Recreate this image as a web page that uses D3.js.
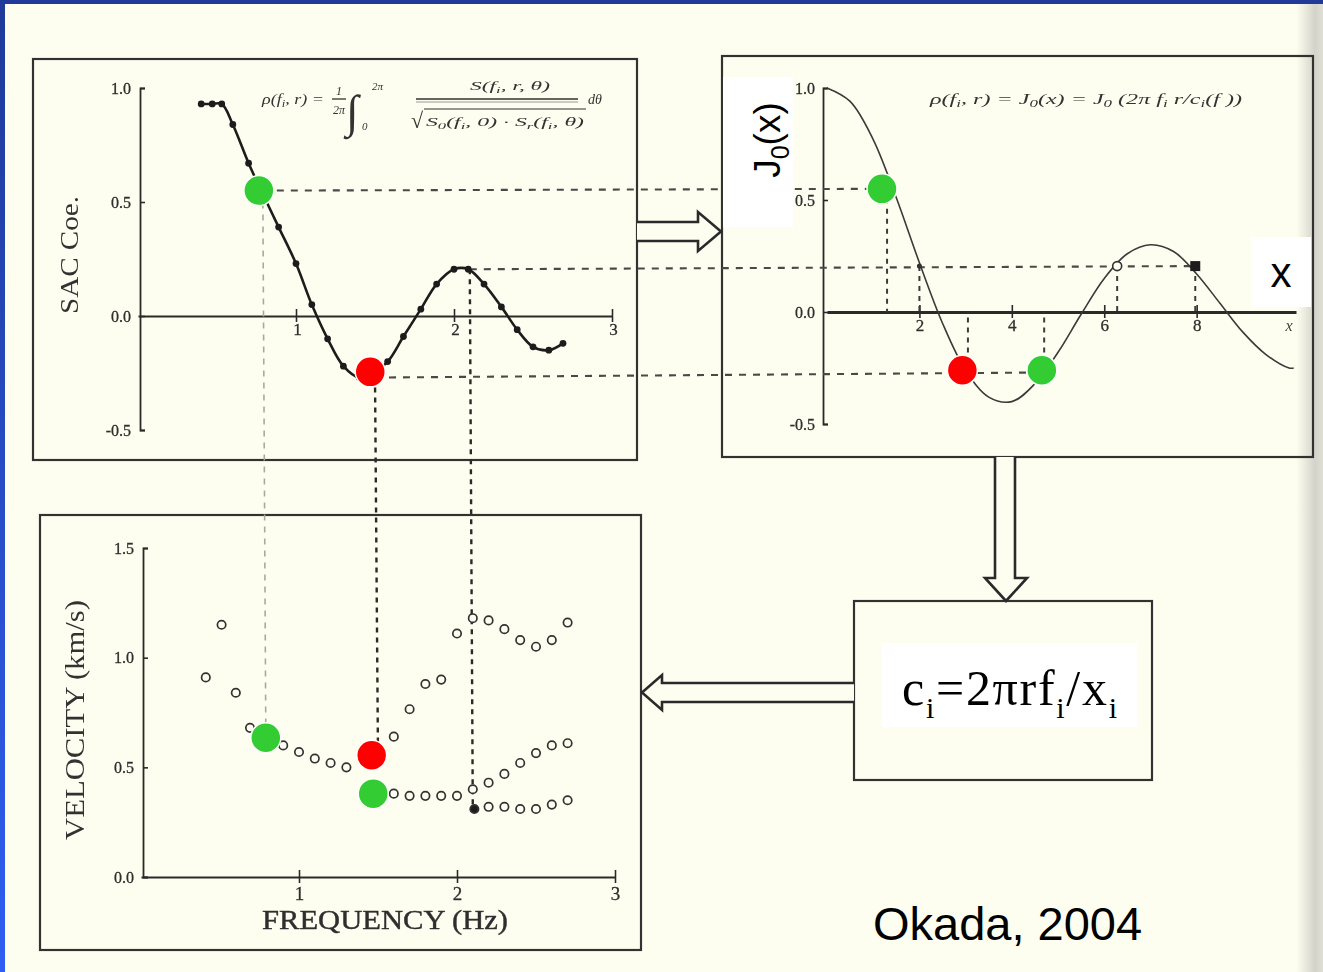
<!DOCTYPE html>
<html>
<head>
<meta charset="utf-8">
<script src="https://cdn.jsdelivr.net/npm/d3@7"></script>
<style>
  html, body { margin: 0; padding: 0; background: #fefef0; overflow: hidden; }
  svg { display: block; }
</style>
</head>
<body>
<svg id="fig" width="1323" height="972"></svg>
<script>
// ---------- data ----------
// SAC coefficient vs frequency (Hz)
const sacFreq = [0.40, 0.47, 0.53, 0.60, 0.70, 0.78, 0.89, 1.00, 1.10, 1.20, 1.30, 1.40, 1.48,
                 1.58, 1.68, 1.79, 1.89, 2.00, 2.09, 2.19, 2.30, 2.40, 2.50, 2.60, 2.69];
const sacCoef = [0.93, 0.93, 0.93, 0.84, 0.67, 0.55, 0.39, 0.23, 0.05, -0.10, -0.22, -0.27, -0.25,
                 -0.20, -0.09, 0.03, 0.14, 0.205, 0.205, 0.14, 0.04, -0.06, -0.135, -0.15, -0.12];

// J0(x) curve
const besselX  = [0, 0.5, 1, 1.5, 2, 2.5, 3, 3.5, 4, 4.5, 5, 5.5, 6, 6.5, 7, 7.5, 8, 8.5, 9, 9.5, 10, 10.1];
const besselJ0 = [1.0, 0.94, 0.77, 0.51, 0.22, -0.05, -0.26, -0.38, -0.40, -0.32, -0.18, -0.01,
                  0.15, 0.26, 0.30, 0.27, 0.17, 0.04, -0.09, -0.19, -0.25, -0.25];

// phase velocity branches (km/s) vs frequency (Hz)
const velFreqA = [0.41, 0.51, 0.60, 0.69, 0.80, 0.90, 1.00, 1.10, 1.20, 1.30, 1.46, 1.60, 1.70,
                  1.80, 1.90, 2.00, 2.10, 2.20, 2.30, 2.40, 2.50, 2.60, 2.70];
const velA     = [0.91, 1.15, 0.84, 0.68, 0.63, 0.60, 0.57, 0.54, 0.52, 0.50, 0.555, 0.64, 0.765,
                  0.88, 0.90, 1.11, 1.18, 1.17, 1.13, 1.08, 1.05, 1.08, 1.16];
const velFreqB = [1.47, 1.60, 1.70, 1.80, 1.90, 2.00, 2.10, 2.20, 2.30, 2.40, 2.50, 2.60, 2.70];
const velB     = [0.38, 0.38, 0.37, 0.37, 0.37, 0.37, 0.40, 0.43, 0.47, 0.52, 0.565, 0.60, 0.61];
const velFreqC = [2.11, 2.20, 2.30, 2.40, 2.50, 2.60, 2.70];
const velC     = [0.31, 0.32, 0.32, 0.31, 0.31, 0.33, 0.35];

// axis ticks
const sacTicks  = [-0.5, 0, 0.5, 1.0];
const freqTicks = [1, 2, 3];
const argTicks  = [2, 4, 6, 8];
const velTicks  = [0, 0.5, 1.0, 1.5];

// values read on the SAC curve and carried to J0(x) and to velocity
const pickFreq    = [0.79, 1.50, 2.10];
const pickCoef    = [0.55, -0.27, 0.205];
const pickVel     = [0.635, 0.555, 0.31];
const pickArg     = [1.30, 3.05, 4.70, 2.00, 6.28, 7.97];
const pickArgCoef = [0.55, -0.27, -0.27, 0.205, 0.205, 0.205];
const linkFrom    = [0, 1, 2];   // SAC pick index
const linkTo      = [0, 2, 5];   // J0 pick index

// highlighted picks (kind: 1 accepted, 0 rejected)
const hiSacFreq = [0.765, 1.47];
const hiSacCoef = [0.55, -0.245];
const hiSacKind = [1, 0];
const hiArg     = [1.19, 2.93, 4.65];
const hiArgJ0   = [0.55, -0.26, -0.26];
const hiArgKind = [1, 0, 1];
const hiVelFreq = [0.79, 1.46, 1.47];
const hiVel     = [0.635, 0.555, 0.38];
const hiVelKind = [1, 0, 1];

// ---------- drawing ----------
const svg = d3.select('#fig');
const defs = svg.append('defs');
defs.append('filter').attr('id', 'soft')
  .append('feGaussianBlur').attr('stdDeviation', 0.65);
const edge = defs.append('linearGradient').attr('id', 'edge').attr('x1', 0).attr('x2', 1).attr('y1', 0).attr('y2', 0);
[[0, '#fefef0'], [0.35, '#e9e9de'], [0.7, '#d3d3c9'], [1, '#dfdfd5']]
  .forEach(([o, c]) => edge.append('stop').attr('offset', o).attr('stop-color', c));
const blue = defs.append('linearGradient').attr('id', 'blue').attr('x1', 0).attr('x2', 0).attr('y1', 0).attr('y2', 1);
[[0, '#1f3a98'], [1, '#2f5ef2']].forEach(([o, c]) => blue.append('stop').attr('offset', o).attr('stop-color', c));

svg.append('rect').attr('width', 1323).attr('height', 972).attr('fill', '#fefef0');
svg.append('rect').attr('x', 1296).attr('y', 0).attr('width', 27).attr('height', 972).attr('fill', 'url(#edge)');

const scan = svg.append('g').attr('filter', 'url(#soft)');
const INK = '#2a2a2a';
const SERIF = "'Liberation Serif', 'Times New Roman', serif";

const xTL = d3.scaleLinear().domain([0, 3]).range([138, 612]);
const yTL = d3.scaleLinear().domain([-0.5, 1]).range([430, 88]);
const xTR = d3.scaleLinear().domain([0, 10.15]).range([827, 1296]);
const yTR = d3.scaleLinear().domain([-0.5, 1]).range([424, 88]);
const xBL = d3.scaleLinear().domain([0, 3]).range([141, 615]);
const yBL = d3.scaleLinear().domain([0, 1.5]).range([877, 548]);

// panel frames
const frames = [[33, 59, 604, 401], [722, 56, 591, 401], [40, 515, 601, 435], [854, 601, 298, 179]];
scan.selectAll('rect.frame').data(frames).join('rect').attr('class', 'frame')
  .attr('x', d => d[0]).attr('y', d => d[1]).attr('width', d => d[2]).attr('height', d => d[3])
  .attr('fill', 'none').attr('stroke', '#333').attr('stroke-width', 2.2);

function styleAxis(g, fs) {
  g.selectAll('path.domain').attr('stroke', INK).attr('stroke-width', 1.8);
  g.selectAll('.tick line').attr('stroke', INK).attr('stroke-width', 1.6);
  g.selectAll('.tick text').attr('font-family', SERIF).attr('font-size', fs || 16)
    .attr('fill', '#2e2e2e').attr('stroke', '#2e2e2e').attr('stroke-width', 0.3);
}
const fmt1 = d => d3.format('.1f')(d).replace('\u2212', '-');
const fmtInt = d3.format('d');

// ---- SAC panel ----
scan.append('g').attr('transform', `translate(${xTL(0) + 2},0)`)
  .call(d3.axisLeft(yTL).tickValues(sacTicks).tickSize(-5).tickPadding(9).tickFormat(fmt1))
  .call(g => styleAxis(g));
scan.append('g').attr('transform', `translate(0,${yTL(0)})`)
  .call(d3.axisBottom(xTL).tickValues(freqTicks).tickFormat(fmtInt).tickSizeInner(6).tickSizeOuter(0).tickPadding(1))
  .call(g => styleAxis(g, 17))
  .call(g => g.selectAll('.tick line').attr('y1', -7))
  .call(g => g.selectAll('.tick text').attr('dx', 1));
scan.append('text').attr('transform', `translate(78,255) rotate(-90)`)
  .attr('text-anchor', 'middle').attr('font-family', SERIF).attr('font-size', 26)
  .attr('textLength', 118).attr('lengthAdjust', 'spacingAndGlyphs').attr('fill', '#333').text('SAC Coe.');

const sacPts = sacFreq.map((f, i) => ({ f, c: sacCoef[i] }));

// ---- J0 panel ----
scan.append('g').attr('transform', `translate(${xTR(0) - 4},0)`)
  .call(d3.axisLeft(yTR).tickValues(sacTicks).tickSize(-5).tickPadding(8).tickFormat(fmt1))
  .call(g => styleAxis(g));
scan.append('g').attr('transform', `translate(0,${yTR(0)})`)
  .call(d3.axisBottom(xTR).tickValues(argTicks).tickFormat(fmtInt).tickSizeInner(6).tickSizeOuter(0).tickPadding(1))
  .call(g => styleAxis(g, 17))
  .call(g => g.select('path.domain').attr('stroke-width', 3))
  .call(g => g.selectAll('.tick line').attr('y1', -7));
scan.append('text').attr('x', xTR(10)).attr('y', yTR(0) + 19).attr('text-anchor', 'middle')
  .attr('font-family', SERIF).attr('font-style', 'italic').attr('font-size', 16).attr('fill', '#444').text('x');

// ---- velocity panel ----
scan.append('g').attr('transform', `translate(${xBL(0) + 2},0)`)
  .call(d3.axisLeft(yBL).tickValues(velTicks).tickSize(-5).tickPadding(9).tickFormat(fmt1))
  .call(g => styleAxis(g));
scan.append('g').attr('transform', `translate(0,${yBL(0)})`)
  .call(d3.axisBottom(xBL).tickValues(freqTicks).tickFormat(fmtInt).tickSizeInner(6).tickSizeOuter(0).tickPadding(4))
  .call(g => styleAxis(g, 19))
  .call(g => g.selectAll('.tick line').attr('y1', -7));
scan.append('text').attr('x', 385).attr('y', 929).attr('text-anchor', 'middle')
  .attr('font-family', SERIF).attr('font-size', 27).attr('textLength', 246).attr('lengthAdjust', 'spacingAndGlyphs')
  .attr('fill', '#2e2e2e').attr('stroke', '#2e2e2e').attr('stroke-width', 0.4).text('FREQUENCY (Hz)');
scan.append('text').attr('transform', `translate(84,720) rotate(-90)`)
  .attr('text-anchor', 'middle').attr('font-family', SERIF).attr('font-size', 27)
  .attr('textLength', 240).attr('lengthAdjust', 'spacingAndGlyphs').attr('fill', '#333').text('VELOCITY (km/s)');

// ---- dashed guide lines ----
const guides = scan.append('g').attr('fill', 'none');
// horizontal: SAC value to J0 argument
linkFrom.forEach((a, k) => {
  const b = linkTo[k];
  guides.append('line')
    .attr('x1', xTL(pickFreq[a])).attr('y1', yTL(pickCoef[a]))
    .attr('x2', xTR(pickArg[b])).attr('y2', yTR(pickArgCoef[b]))
    .attr('stroke', '#4a4a4a').attr('stroke-width', 2.1).attr('stroke-dasharray', '7,7');
});
// vertical: SAC frequency down to velocity
pickFreq.forEach((f, i) => {
  guides.append('line')
    .attr('x1', xTL(f)).attr('y1', yTL(pickCoef[i]))
    .attr('x2', xBL(f)).attr('y2', yBL(pickVel[i]))
    .attr('stroke', i === 0 ? '#a8a8a0' : '#2a2a2a')
    .attr('stroke-width', i === 0 ? 1.6 : 2.4)
    .attr('stroke-dasharray', i === 0 ? '6,6' : '5,5');
});
// vertical: J0 picks down/up to the x axis
pickArg.forEach((x, i) => {
  guides.append('line')
    .attr('x1', xTR(x)).attr('y1', yTR(pickArgCoef[i]))
    .attr('x2', xTR(x)).attr('y2', yTR(0))
    .attr('stroke', '#3a3a3a').attr('stroke-width', 2).attr('stroke-dasharray', '5,5');
});

// SAC curve with points
scan.append('path').datum(sacPts)
  .attr('d', d3.line().x(d => xTL(d.f)).y(d => yTL(d.c)).curve(d3.curveCatmullRom))
  .attr('fill', 'none').attr('stroke', '#1e1e1e').attr('stroke-width', 2.6);
scan.selectAll('circle.sac').data(sacPts).join('circle').attr('class', 'sac')
  .attr('cx', d => xTL(d.f)).attr('cy', d => yTL(d.c)).attr('r', 3.4).attr('fill', '#1e1e1e');

// J0 curve
const besselPts = besselX.map((x, i) => ({ x, j: besselJ0[i] }));
scan.append('path').datum(besselPts)
  .attr('d', d3.line().x(d => xTR(d.x)).y(d => yTR(d.j)).curve(d3.curveCatmullRom))
  .attr('fill', 'none').attr('stroke', '#3a3a3a').attr('stroke-width', 1.6);
// markers on the J0 curve at the 0.205 level
scan.append('circle').attr('cx', xTR(pickArg[4])).attr('cy', yTR(pickArgCoef[4])).attr('r', 4.5)
  .attr('fill', '#fefef0').attr('stroke', '#333').attr('stroke-width', 1.6);
scan.append('rect').attr('x', xTR(pickArg[5]) - 5).attr('y', yTR(pickArgCoef[5]) - 5)
  .attr('width', 10).attr('height', 10).attr('fill', '#1e1e1e');
scan.append('circle').attr('cx', xTR(pickArg[3])).attr('cy', yTR(pickArgCoef[3])).attr('r', 2.5).attr('fill', '#333');

// velocity points
const velPts = [];
velFreqA.forEach((f, i) => velPts.push({ f, v: velA[i], filled: false }));
velFreqB.forEach((f, i) => velPts.push({ f, v: velB[i], filled: false }));
velFreqC.forEach((f, i) => velPts.push({ f, v: velC[i], filled: i === 0 }));
scan.selectAll('circle.vel').data(velPts).join('circle').attr('class', 'vel')
  .attr('cx', d => xBL(d.f)).attr('cy', d => yBL(d.v)).attr('r', 4.2)
  .attr('fill', d => d.filled ? '#1e1e1e' : '#fefef0')
  .attr('stroke', '#333').attr('stroke-width', 1.7);

// ---- printed formulas ----
const fT = scan.append('g').attr('font-family', SERIF).attr('font-style', 'italic').attr('fill', '#333');
function richText(g, x, y, size, parts, len) {
  const t = g.append('text').attr('x', x).attr('y', y).attr('font-size', size);
  parts.forEach(p => {
    const s = t.append('tspan').text(p[0]);
    if (p[1] === 'sub') s.attr('font-size', size * 0.7).attr('dy', 3);
    if (p[1] === 'up') s.attr('dy', -3);
  });
  if (len) t.attr('textLength', len).attr('lengthAdjust', 'spacingAndGlyphs');
  return t;
}
richText(fT, 262, 104, 14, [['\u03c1(f'], ['i', 'sub'], [', r) =', 'up']], 62);
fT.append('text').attr('x', 339).attr('y', 95).attr('font-size', 12).attr('text-anchor', 'middle').text('1');
fT.append('line').attr('x1', 332).attr('x2', 346).attr('y1', 99).attr('y2', 99).attr('stroke', '#333').attr('stroke-width', 1.3);
fT.append('text').attr('x', 339).attr('y', 114).attr('font-size', 12).attr('text-anchor', 'middle').text('2\u03c0');
fT.append('text').attr('x', 346).attr('y', 127).attr('font-size', 46).attr('font-style', 'normal').text('\u222b');
fT.append('text').attr('x', 372).attr('y', 90).attr('font-size', 11).text('2\u03c0');
fT.append('text').attr('x', 362).attr('y', 130).attr('font-size', 11).text('0');
richText(fT, 470, 90, 13, [['S(f'], ['i', 'sub'], [', r, \u03b8)', 'up']], 80);
fT.append('line').attr('x1', 416).attr('x2', 578).attr('y1', 99).attr('y2', 99).attr('stroke', '#333').attr('stroke-width', 1.4);
fT.append('line').attr('x1', 416).attr('x2', 578).attr('y1', 102).attr('y2', 102).attr('stroke', '#9a9a94').attr('stroke-width', 1.2);
fT.append('text').attr('x', 411).attr('y', 128).attr('font-size', 22).attr('font-style', 'normal').text('\u221a');
fT.append('line').attr('x1', 424).attr('x2', 586).attr('y1', 109).attr('y2', 109).attr('stroke', '#333').attr('stroke-width', 1.1);
richText(fT, 426, 126, 13, [['S'], ['0', 'sub'], ['(f', 'up'], ['i', 'sub'], [', 0) \u00b7 S', 'up'], ['r', 'sub'], ['(f', 'up'], ['i', 'sub'], [', \u03b8)', 'up']], 158);
fT.append('text').attr('x', 588).attr('y', 104).attr('font-size', 14).text('d\u03b8');

richText(fT, 930, 104, 14, [['\u03c1(f'], ['i', 'sub'], [', r) = J', 'up'], ['0', 'sub'], ['(x) = J', 'up'], ['0', 'sub'],
  [' (2\u03c0 f', 'up'], ['i', 'sub'], [' r/c', 'up'], ['i', 'sub'], ['(f ))', 'up']], 312);

// ---- hollow arrows ----
const arrows = [
  'M637,222 H698 V212 L721,231.5 L698,251 V241 H637',
  'M995,457 V578 H985 L1006,601 L1027,578 H1015 V457',
  'M854,683 H662 V675 L642,692.5 L662,710 V702 H854'
];
scan.selectAll('path.arrow').data(arrows).join('path').attr('class', 'arrow')
  .attr('d', d => d).attr('fill', '#fefef0').attr('stroke', '#2a2a2a').attr('stroke-width', 2.6)
  .attr('stroke-linejoin', 'miter');

// ---- highlights and labels drawn on top ----
const overlay = svg.append('g');
const kindColor = k => k ? '#33cc33' : '#ff0000';
function dots(xs, ys, kinds, sx, sy) {
  overlay.append('g').selectAll('circle').data(xs.map((x, i) => ({ x, y: ys[i], k: kinds[i] }))).join('circle')
    .attr('cx', d => sx(d.x)).attr('cy', d => sy(d.y)).attr('r', 15)
    .attr('fill', d => kindColor(d.k)).attr('stroke', '#fff').attr('stroke-width', 1.5);
}
dots(hiSacFreq, hiSacCoef, hiSacKind, xTL, yTL);
dots(hiArg, hiArgJ0, hiArgKind, xTR, yTR);
dots(hiVelFreq, hiVel, hiVelKind, xBL, yBL);

const SANS = "'Liberation Sans', Arial, sans-serif";
overlay.append('rect').attr('x', 723).attr('y', 77).attr('width', 70).attr('height', 150).attr('fill', '#fff');
const jt = overlay.append('text').attr('transform', 'translate(780,140) rotate(-90)').attr('text-anchor', 'middle')
  .attr('font-family', SANS).attr('font-size', 37).attr('fill', '#000');
jt.append('tspan').text('J');
jt.append('tspan').text('0').attr('font-size', 25).attr('dy', 9);
jt.append('tspan').text('(x)').attr('dy', -9);

overlay.append('rect').attr('x', 1251).attr('y', 237).attr('width', 60).attr('height', 70).attr('fill', '#fff');
overlay.append('text').attr('x', 1281).attr('y', 287).attr('text-anchor', 'middle')
  .attr('font-family', SANS).attr('font-size', 42).attr('fill', '#000').text('x');

overlay.append('rect').attr('x', 882).attr('y', 643).attr('width', 255).attr('height', 84).attr('fill', '#fff');
const ct = overlay.append('text').attr('x', 902).attr('y', 705).attr('font-family', SERIF).attr('font-size', 50)
  .attr('fill', '#000').attr('textLength', 215).attr('lengthAdjust', 'spacing');
ct.append('tspan').text('c');
ct.append('tspan').text('i').attr('font-size', 30).attr('dy', 13);
ct.append('tspan').text('=2\u03c0rf').attr('dy', -13);
ct.append('tspan').text('i').attr('font-size', 30).attr('dy', 13);
ct.append('tspan').text('/x').attr('dy', -13);
ct.append('tspan').text('i').attr('font-size', 30).attr('dy', 13);

overlay.append('text').attr('x', 873).attr('y', 940).attr('font-family', SANS).attr('font-size', 47)
  .attr('fill', '#000').text('Okada, 2004');

// slide frame
svg.append('rect').attr('x', 0).attr('y', 0).attr('width', 1323).attr('height', 4).attr('fill', '#1f3a98');
svg.append('rect').attr('x', 0).attr('y', 0).attr('width', 5).attr('height', 972).attr('fill', 'url(#blue)');
</script>
</body>
</html>
